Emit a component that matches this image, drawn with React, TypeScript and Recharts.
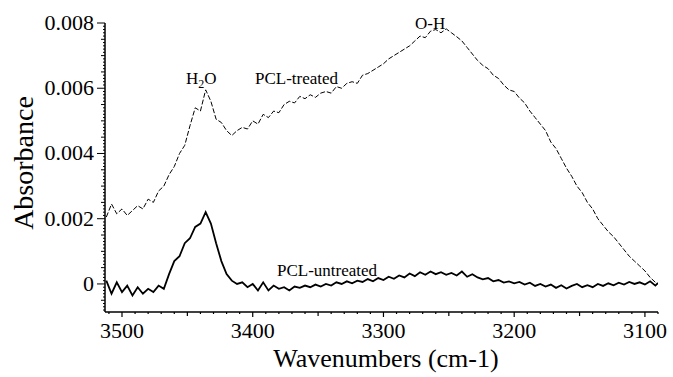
import React from "react";
import { LineChart, Line, XAxis, YAxis } from "recharts";

// wavenumbers (cm-1), axis reversed
const wavenumbers = [
  3512, 3508, 3504, 3500, 3496, 3492, 3488, 3484, 3480, 3476,
  3472, 3468, 3464, 3460, 3456, 3452, 3448, 3444, 3440, 3436,
  3432, 3428, 3424, 3420, 3416, 3412, 3408, 3404, 3400, 3396,
  3392, 3388, 3384, 3380, 3376, 3372, 3368, 3364, 3360, 3356,
  3352, 3348, 3344, 3340, 3336, 3332, 3328, 3324, 3320, 3316,
  3312, 3308, 3304, 3300, 3296, 3292, 3288, 3284, 3280, 3276,
  3272, 3268, 3264, 3260, 3256, 3252, 3248, 3244, 3240, 3236,
  3232, 3228, 3224, 3220, 3216, 3212, 3208, 3204, 3200, 3196,
  3192, 3188, 3184, 3180, 3176, 3172, 3168, 3164, 3160, 3156,
  3152, 3148, 3144, 3140, 3136, 3132, 3128, 3124, 3120, 3116,
  3112, 3108, 3104, 3100, 3096, 3092, 3090,
];

const pclTreated = [
  0.00205, 0.00245, 0.00215, 0.0023, 0.0021, 0.00225, 0.0024, 0.0023, 0.0026, 0.0025,
  0.00285, 0.003, 0.00335, 0.0036, 0.004, 0.00425, 0.00485, 0.0054, 0.0053, 0.00595,
  0.0056, 0.00505, 0.00495, 0.0047, 0.00455, 0.0047, 0.0048, 0.00475, 0.005, 0.0049,
  0.0052, 0.0051, 0.0053, 0.00525, 0.0055, 0.0056, 0.00555, 0.00575, 0.00568, 0.0058,
  0.00572, 0.00585, 0.0059, 0.00585, 0.00605, 0.006, 0.00615, 0.0062, 0.00615, 0.0064,
  0.00645, 0.00655, 0.00665, 0.00675, 0.0069, 0.007, 0.0071, 0.0072, 0.0073, 0.00745,
  0.0076, 0.00755, 0.00775, 0.0078, 0.0077, 0.00782, 0.0077, 0.00758, 0.00745, 0.00725,
  0.00705, 0.00685, 0.0067, 0.0066, 0.0064, 0.0063, 0.0061, 0.00595, 0.0059, 0.0057,
  0.00555, 0.0053, 0.0051, 0.0049, 0.0047, 0.00435, 0.00415, 0.00385, 0.00355, 0.0033,
  0.003, 0.0028, 0.0025, 0.0023, 0.002, 0.0018, 0.0016, 0.00145, 0.00125, 0.00105,
  0.00085, 0.0007, 0.00055, 0.0004, 0.0002, 0.00005, 0,
];

const pclUntreated = [
  0.0001, -0.0003, 0.00005, -0.00025, -0.00005, -0.00035, -0.0001, -0.0003, -0.00015, -0.00025,
  -0.00005, -0.00015, 0.0003, 0.0007, 0.00085, 0.00125, 0.0014, 0.00175, 0.00185, 0.0022,
  0.00185, 0.00125, 0.0007, 0.0003, 0.0001, 0, 0.00005, -0.0001, 0, -0.0002,
  0.00005, -0.0002, -0.00005, -0.00015, -0.0001, -0.0002, -0.00008, -0.00012, -0.00005, -0.0001,
  -0.00002, -0.00008, 0, -0.00005, 0.00005, 0, 0.00008, 0.00002, 0.0001, 0.00006,
  0.00015, 0.00008, 0.00018, 0.00012, 0.00022, 0.00016, 0.00026, 0.0002, 0.00032, 0.00024,
  0.00036, 0.00028, 0.00038, 0.0003, 0.00036, 0.00028, 0.00034, 0.00026, 0.00038, 0.00022,
  0.0003, 0.0002, 0.00014, 0.00018, 0.00008, 0.00012, 0.00004, 0.00008, 0.00002, 0.00006,
  -0.00002, 0.00004, -0.00006, 0, -0.00008, -0.00002, -0.00012, -0.00004, -0.00014, -0.00006,
  0, -0.0001, -0.00004, -0.0001, 0, -0.00006, 0.00002, -0.00004, 0.00004, -0.00002,
  0.00006, 0, 0.00005, -0.00002, 0.00008, -0.00005, 0.00003,
];

const xLabels = [3500, 3400, 3300, 3200, 3100];
const yLabels = [0, 0.002, 0.004, 0.006, 0.008];

const data = wavenumbers.map((wn, i) => ({
  wn,
  treated: pclTreated[i],
  untreated: pclUntreated[i],
}));

const FONT = '"Liberation Serif", "DejaVu Serif", serif';
const txt = { fontFamily: FONT };

// minor tick grids (axis decoration only)
const xTicks = Array.from({ length: 43 }, (_, i) => 3090 + i * 10);
const yTicks = Array.from({ length: 89 }, (_, i) => Math.round((-0.0008 + i * 0.0001) * 10000) / 10000);

const XTick = (props: any) => {
  const { x, y, payload } = props;
  const v = payload.value;
  const major = v % 100 === 0;
  const mid = v % 50 === 0;
  const len = major ? 5 : mid ? 4 : 2;
  return (
    <g>
      <line x1={x} x2={x} y1={y} y2={y + len} stroke="#000" strokeWidth={1.2} />
      {xLabels.includes(v) && (
        <text x={x} y={y + 26} textAnchor="middle" style={txt} fontSize={22} fill="#000">
          {v}
        </text>
      )}
    </g>
  );
};

const YTick = (props: any) => {
  const { x, y, payload } = props;
  const v = payload.value;
  const k = Math.round(v * 10000);
  const labeled = yLabels.some((l) => Math.round(l * 10000) === k);
  const len = labeled ? 8 : k % 5 === 0 ? 4 : 2;
  return (
    <g>
      <line x1={x - len} x2={x} y1={y} y2={y} stroke="#000" strokeWidth={1} />
      {labeled && (
        <text x={x - 11} y={y + 7} textAnchor="end" style={txt} fontSize={22} fill="#000">
          {k === 0 ? "0" : v.toFixed(3)}
        </text>
      )}
    </g>
  );
};

export default function App() {
  return (
    <div style={{ position: "absolute", left: 0, top: 0, width: 673, height: 377, background: "#fff", fontFamily: FONT }}>
      <LineChart width={673} height={377} data={data} margin={{ top: 23, right: 15, left: 0, bottom: 0 }}>
        <XAxis
          dataKey="wn"
          type="number"
          domain={[3090, 3513]}
          reversed
          ticks={xTicks}
          interval={0}
          tick={<XTick />}
          tickLine={false}
          tickSize={0}
          tickMargin={0}
          height={65}
          axisLine={{ stroke: "#000", strokeWidth: 1.5 }}
          allowDataOverflow
        />
        <YAxis
          type="number"
          domain={[-0.00086, 0.008]}
          ticks={yTicks}
          interval={0}
          tick={<YTick />}
          tickLine={false}
          tickSize={0}
          tickMargin={0}
          width={105}
          axisLine={{ stroke: "#000", strokeWidth: 1.5 }}
          allowDataOverflow
        />
        <Line
          dataKey="treated"
          stroke="#000"
          strokeWidth={1}
          strokeDasharray="5 2"
          dot={false}
          isAnimationActive={false}
        />
        <Line dataKey="untreated" stroke="#000" strokeWidth={1.8} dot={false} isAnimationActive={false} />
      </LineChart>
      <svg
        width={673}
        height={377}
        style={{ position: "absolute", left: 0, top: 0, pointerEvents: "none", fontFamily: FONT }}
        fill="#000"
      >
        <text x={23} y={163} fontSize={28} textAnchor="middle" dominantBaseline="central" transform="rotate(-90 23 163)" style={txt}>
          Absorbance
        </text>
        <text x={386} y={367} fontSize={26} textAnchor="middle" style={txt}>
          Wavenumbers (cm-1)
        </text>
        <text x={186} y={84} fontSize={17} style={txt}>
          H<tspan fontSize={12} dy={4}>2</tspan>
          <tspan dy={-4}>O</tspan>
        </text>
        <text x={255} y={84} fontSize={17} style={txt}>PCL-treated</text>
        <text x={415} y={29} fontSize={17} style={txt}>O-H</text>
        <text x={277} y={276} fontSize={17} style={txt}>PCL-untreated</text>
      </svg>
    </div>
  );
}
